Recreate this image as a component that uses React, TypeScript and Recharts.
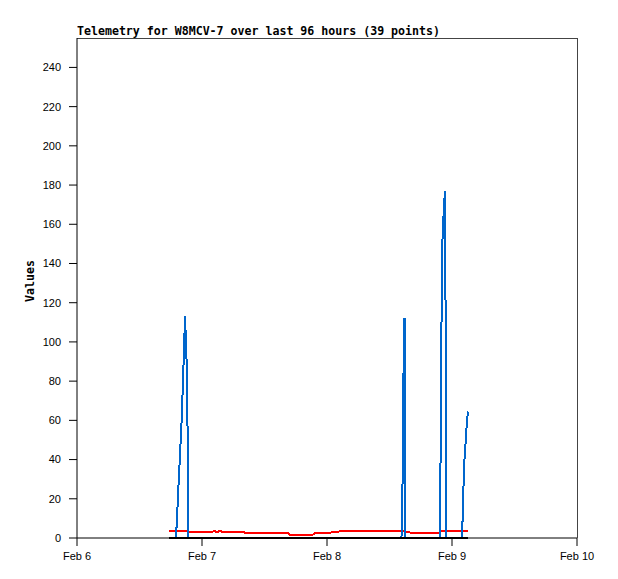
import { LineChart, Line, XAxis, YAxis, ReferenceLine } from "recharts";

// hours since Feb 6 00:00
const hours = [
  17.66, 19.01, 19.3, 19.49, 19.68, 19.97, 20.16, 20.35, 20.54, 20.74, 21.02, 21.22, 21.41,
  25.92, 26.3, 26.88, 27.46, 28.03, 32.06, 32.45, 40.51, 40.9, 45.31, 45.7, 48.0, 48.96,
  50.11, 50.88, 62.3, 62.5, 62.69, 62.88, 62.98, 63.07, 64.13, 69.6, 69.79, 69.98, 70.14,
  70.31, 70.5, 70.66, 70.81, 70.94, 73.92, 74.11, 74.3, 74.5, 74.69, 74.88, 75.07,
];
const blueValues = [
  0, 0, 16, 27, 37, 53, 64, 81, 95, 113, 93, 57, 0,
  0, 0, 0, 0, 0, 0, 0, 0, 0, 0, 0, 0, 0,
  0, 0, 0, 28, 84, 112, 56, 0, 0, 0, 36, 108, 150,
  161, 171, 177, 88, 0, 0, 16, 36, 44, 52, 60, 64.5,
];
const redValues = [
  3.8, 3.2, 3.7, 3.7, 3.7, 3.7, 3.7, 3.7, 3.7, 3.7, 3.7, 3.5, 2.9,
  2.9, 3.7, 2.9, 3.7, 2.9, 2.9, 2.4, 2.4, 1.7, 1.7, 2.4, 2.4, 2.9,
  3.2, 3.7, 3.7, 3.7, 3.7, 3.7, 3.5, 3.2, 2.7, 2.7, 3.7, 3.7, 3.7,
  3.7, 3.7, 3.7, 3.7, 3.7, 3.7, 3.7, 3.7, 3.7, 3.7, 3.7, 3.7,
];
const blackValues = hours.map(() => 0);

const xTicks = [0, 24, 48, 72, 96];
const xTickLabels = ["Feb 6", "Feb 7", "Feb 8", "Feb 9", "Feb 10"];
const yTicks = [0, 20, 40, 60, 80, 100, 120, 140, 160, 180, 200, 220, 240];

const data = hours.map((h, i) => ({
  h,
  blue: blueValues[i],
  red: redValues[i],
  black: blackValues[i],
}));

const tickStyle = { fill: "#000", fontSize: 11, fontFamily: "Liberation Sans" };

export default function App() {
  return (
    <div style={{ position: "absolute", left: 0, top: 0, width: 618, height: 579, background: "#fff" }}>
      <div
        style={{
          position: "absolute",
          left: 77,
          top: 26,
          fontFamily: "DejaVu Sans Mono",
          fontWeight: "bold",
          fontSize: 11.6,
          lineHeight: "11.6px",
          whiteSpace: "nowrap",
          color: "#000",
        }}
      >
        Telemetry for W8MCV-7 over last 96 hours (39 points)
      </div>
      <div
        style={{
          position: "absolute",
          left: 31,
          top: 281,
          transform: "translate(-50%, -50%) rotate(-90deg)",
          fontFamily: "DejaVu Sans Mono",
          fontWeight: "bold",
          fontSize: 11.6,
          lineHeight: "11.6px",
          color: "#000",
        }}
      >
        Values
      </div>
      <LineChart width={618} height={579} data={data} margin={{ top: 38, right: 41, bottom: 0, left: 0 }}>
        <XAxis
          dataKey="h"
          type="number"
          domain={[0, 96]}
          ticks={xTicks}
          tickFormatter={(v: number) => xTickLabels[xTicks.indexOf(v)]}
          height={41}
          stroke="#000"
          tickSize={8}
          tickMargin={6}
          tick={tickStyle}
          interval={0}
        />
        <YAxis
          type="number"
          domain={[0, 255]}
          ticks={yTicks}
          width={77}
          stroke="#000"
          tickSize={8}
          tickMargin={8}
          tick={tickStyle}
          interval={0}
        />
        <ReferenceLine y={255} stroke="#444" shapeRendering="crispEdges" />
        <ReferenceLine x={96} stroke="#444" shapeRendering="crispEdges" />
        <Line dataKey="red" type="linear" stroke="#ff0000" strokeWidth={2} dot={false} shapeRendering="crispEdges" isAnimationActive={false} />
        <Line dataKey="blue" type="linear" stroke="#0066cc" strokeWidth={2} dot={false} shapeRendering="crispEdges" isAnimationActive={false} />
        <Line dataKey="black" type="linear" stroke="#000" strokeWidth={2} dot={false} shapeRendering="crispEdges" isAnimationActive={false} />
      </LineChart>
    </div>
  );
}
